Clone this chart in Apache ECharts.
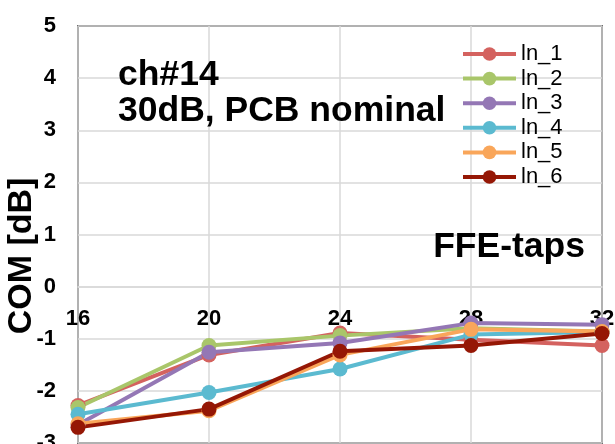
<!DOCTYPE html>
<html><head><meta charset="utf-8">
<script src="https://cdn.jsdelivr.net/npm/echarts@6/dist/echarts.min.js"></script>
<style>html,body{margin:0;padding:0;background:#fff}#c{width:615px;height:444px}</style>
</head><body><div id="c"></div>
<script>
const categories = ['16','20','24','28','32'];
const seriesNames = ['ln_1','ln_2','ln_3','ln_4','ln_5','ln_6'];
const ln_1 = [-2.28, -1.31, -0.89, -1.02, -1.13];
const ln_2 = [-2.32, -1.13, -0.94, -0.80, -0.86];
const ln_3 = [-2.65, -1.26, -1.08, -0.70, -0.73];
const ln_4 = [-2.45, -2.03, -1.58, -0.92, -0.87];
const ln_5 = [-2.63, -2.38, -1.31, -0.82, -0.86];
const ln_6 = [-2.70, -2.35, -1.24, -1.13, -0.90];
const yTicks = [-3,-2,-1,0,1,2,3,4,5];
const colors = ['#D4625F','#A9C66A','#9477B5','#5BBAD0','#F9A65A','#951705'];
const allData = [ln_1, ln_2, ln_3, ln_4, ln_5, ln_6];
const FONT = 'Liberation Sans, Arial, sans-serif';

const W = 615, H = 444;
const gridTop = 26, gridBottom = 1;
const gridH = H - gridTop - gridBottom;
const yMin = yTicks[0], yMax = yTicks[yTicks.length-1];
const zeroOffset = -((0 - yMin) / (yMax - yMin)) * gridH;

const chart = echarts.init(document.getElementById('c'));
chart.setOption({
  animation: false,
  backgroundColor: '#fff',
  grid: { left: 78, top: gridTop, right: 13, bottom: gridBottom, show: true, borderColor: '#000', borderWidth: 1.5, containLabel: false, outerBoundsMode: 'none' },
  xAxis: {
    type: 'category', data: categories, boundaryGap: false, position: 'bottom', offset: zeroOffset,
    axisLine: { show: true, onZero: false, lineStyle: { color: '#d9d9d9', width: 1.5 } },
    axisTick: { show: false },
    axisLabel: { fontFamily: FONT, fontWeight: 'bold', fontSize: 22, color: '#000', margin: 21, interval: 0 },
    splitLine: { show: true, lineStyle: { color: '#d9d9d9', width: 1.5 } }
  },
  yAxis: {
    type: 'value', min: yMin, max: yMax, interval: 1,
    axisLine: { show: false }, axisTick: { show: false },
    axisLabel: { fontFamily: FONT, fontWeight: 'bold', fontSize: 22, color: '#000', margin: 22 },
    splitLine: { show: true, lineStyle: { color: '#d9d9d9', width: 1.5 } }
  },
  legend: {
    orient: 'vertical', left: 456, top: 38, itemWidth: 53, itemHeight: 17, itemGap: 2.6,
    lineStyle: { width: 4 },
    textStyle: { fontFamily: FONT, fontSize: 22, color: '#000', lineHeight: 22 },
    data: seriesNames
  },
  graphic: [
    { type: 'text', x: 22, y: 256, rotation: Math.PI/2, z: 100,
      style: { text: 'COM [dB]', font: 'bold 34px ' + FONT, fill: '#000', textAlign: 'center', textVerticalAlign: 'middle' } },
    { type: 'text', x: 118, y: 75, z: 100,
      style: { text: 'ch#14', font: 'bold 35.5px ' + FONT, fill: '#000', textAlign: 'left', textVerticalAlign: 'middle' } },
    { type: 'text', x: 118, y: 111, z: 100,
      style: { text: '30dB, PCB nominal', font: 'bold 35.5px ' + FONT, fill: '#000', textAlign: 'left', textVerticalAlign: 'middle' } },
    { type: 'text', x: 585, y: 247, z: 100,
      style: { text: 'FFE-taps', font: 'bold 35.5px ' + FONT, fill: '#000', textAlign: 'right', textVerticalAlign: 'middle' } }
  ],
  series: seriesNames.map((n, i) => ({
    name: n, type: 'line', data: allData[i], clip: false,
    symbol: 'circle', symbolSize: 15, color: colors[i],
    lineStyle: { width: 4, color: colors[i] },
    itemStyle: { color: colors[i] }
  }))
});
</script></body></html>
